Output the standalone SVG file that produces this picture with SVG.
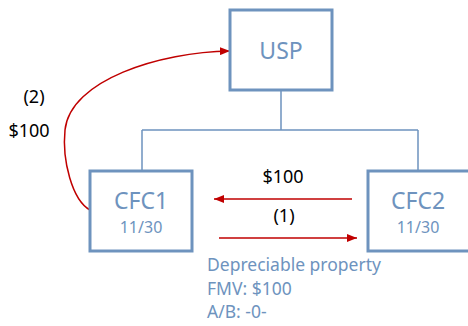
<svg xmlns="http://www.w3.org/2000/svg" width="468" height="326" viewBox="0 0 468 326">
<style>
.box{fill:#fff;stroke:#6E93BE;stroke-width:3}
.tree{fill:none;stroke:#6E93BE;stroke-width:1.5}
.red{fill:none;stroke:#C00000;stroke-width:1.5}
.b{font-family:"Noto Sans",sans-serif;fill:#6E93BE}
.k{font-family:"Noto Sans",sans-serif;fill:#000;font-size:18px}
</style>
<defs>
<marker id="ah" viewBox="0 0 10 8" refX="10" refY="4" markerWidth="10" markerHeight="8" markerUnits="userSpaceOnUse" orient="auto">
<path d="M0,0 L10,4 L0,8 Z" fill="#C00000"/>
</marker>
</defs>
<g id="connectors">
<path class="tree" d="M281,91 V130 M142,130 H418 M142,130 V170 M418,130 V170"/>
<path class="red" d="M352,199 H214" marker-end="url(#ah)"/>
<path class="red" d="M219,238 H357" marker-end="url(#ah)"/>
<path class="red" d="M90,210 C72,200 62,160 65,130 C70,80 160,52 230,51" marker-end="url(#ah)"/>
</g>
<g id="usp">
<rect class="box" x="230" y="10" width="102" height="80"/>
<text class="b" x="281" y="59" font-size="23" text-anchor="middle">USP</text>
</g>
<g id="cfc1">
<rect class="box" x="90" y="171" width="102" height="80"/>
<text class="b" x="141" y="209" font-size="23" text-anchor="middle">CFC1</text>
<text class="b" x="141" y="233" font-size="16" text-anchor="middle">11/30</text>
</g>
<g id="cfc2">
<rect class="box" x="368" y="171" width="102" height="80"/>
<text class="b" x="418" y="209" font-size="23" text-anchor="middle">CFC2</text>
<text class="b" x="418" y="233" font-size="16" text-anchor="middle">11/30</text>
</g>
<g id="labels">
<text class="k" x="283" y="183" text-anchor="middle">$100</text>
<text class="k" x="284" y="222" text-anchor="middle">(1)</text>
<text class="k" x="34" y="103" text-anchor="middle">(2)</text>
<text class="k" x="29" y="137" text-anchor="middle">$100</text>
</g>
<g id="property">
<text class="b" font-size="17.5"><tspan x="207" y="271">Depreciable property</tspan><tspan x="207" y="295">FMV: $100</tspan><tspan x="207" y="318">A/B: -0-</tspan></text>
</g>
</svg>
